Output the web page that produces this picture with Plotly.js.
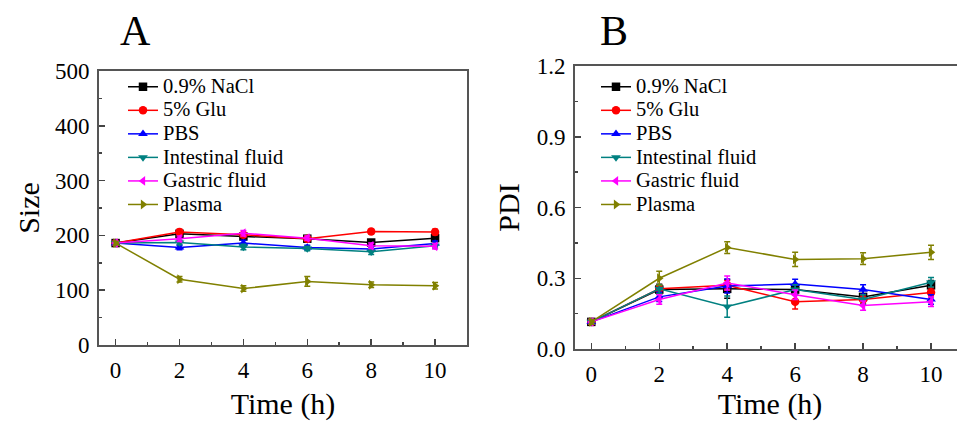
<!DOCTYPE html>
<html>
<head>
<meta charset="utf-8">
<script src="https://cdn.plot.ly/plotly-3.0.1.min.js"></script>
<style>
html,body{margin:0;padding:0;overflow:hidden;background:#fff;width:957px;height:421px;}
#chart{width:975px;height:421px;}
</style>
</head>
<body>
<div id="chart"></div>
<script>
// ---- data ----
const timeH = [0, 2, 4, 6, 8, 10];
const seriesNames = ["0.9% NaCl", "5% Glu", "PBS", "Intestinal fluid", "Gastric fluid", "Plasma"];

// Panel A: Size
const sizeNaCl       = [186, 203, 198, 194, 187, 195];
const sizeGlu        = [186, 206, 201, 194, 207, 206];
const sizePBS        = [186, 178, 186, 178, 175, 185];
const sizeIntestinal = [186, 187, 179, 176, 170, 181];
const sizeGastric    = [186, 194, 204, 195, 181, 180];
const sizePlasma     = [186, 120, 103, 116, 110, 108];
const sizeErrNaCl       = [3, 5, 5, 4, 5, 5];
const sizeErrGlu        = [3, 5, 4, 4, 4, 5];
const sizeErrPBS        = [3, 4, 5, 4, 4, 5];
const sizeErrIntestinal = [3, 4, 5, 4, 5, 4];
const sizeErrGastric    = [3, 5, 5, 4, 5, 5];
const sizeErrPlasma     = [3, 5, 5, 9, 5, 6];

// Panel B: PDI
const pdiNaCl       = [0.115, 0.252, 0.255, 0.252, 0.221, 0.270];
const pdiGlu        = [0.115, 0.255, 0.270, 0.200, 0.210, 0.240];
const pdiPBS        = [0.115, 0.221, 0.267, 0.276, 0.252, 0.210];
const pdiIntestinal = [0.115, 0.255, 0.180, 0.252, 0.210, 0.283];
const pdiGastric    = [0.115, 0.210, 0.280, 0.230, 0.184, 0.200];
const pdiPlasma     = [0.115, 0.300, 0.430, 0.380, 0.383, 0.410];
const pdiErrNaCl       = [0.01, 0.02, 0.04, 0.02, 0.03, 0.02];
const pdiErrGlu        = [0.01, 0.02, 0.02, 0.03, 0.02, 0.02];
const pdiErrPBS        = [0.01, 0.02, 0.03, 0.02, 0.02, 0.02];
const pdiErrIntestinal = [0.01, 0.02, 0.045, 0.02, 0.02, 0.02];
const pdiErrGastric    = [0.01, 0.02, 0.03, 0.02, 0.02, 0.02];
const pdiErrPlasma     = [0.01, 0.03, 0.025, 0.03, 0.025, 0.03];

const xTickVals = [0, 2, 4, 6, 8, 10];
const sizeTickVals = [0, 100, 200, 300, 400, 500];
const pdiTickVals = [0, 0.3, 0.6, 0.9, 1.2];
const pdiTickText = ["0.0", "0.3", "0.6", "0.9", "1.2"];

// ---- styles ----
const colors = ["#000000", "#ff0000", "#0000ff", "#008080", "#ff00ff", "#808000"];
const symbols = ["square", "circle", "triangle-up", "triangle-down", "triangle-left", "triangle-right"];
const FONT = "'Liberation Serif', 'Times New Roman', Times, serif";
const W = 975, H = 421;
const px = v => v / W;
const py = v => 1 - v / H;
const legendLabel = n => "<span style='font-size:20.5px'>" + n + "</span>";

const sizeSeries = [sizeNaCl, sizeGlu, sizePBS, sizeIntestinal, sizeGastric, sizePlasma];
const sizeErrs = [sizeErrNaCl, sizeErrGlu, sizeErrPBS, sizeErrIntestinal, sizeErrGastric, sizeErrPlasma];
const pdiSeries = [pdiNaCl, pdiGlu, pdiPBS, pdiIntestinal, pdiGastric, pdiPlasma];
const pdiErrs = [pdiErrNaCl, pdiErrGlu, pdiErrPBS, pdiErrIntestinal, pdiErrGastric, pdiErrPlasma];

const traces = [];
seriesNames.forEach((n, i) => {
  traces.push({
    x: timeH, y: sizeSeries[i], name: legendLabel(n), type: 'scatter', mode: 'lines+markers',
    xaxis: 'x', yaxis: 'y', legend: 'legend',
    line: {color: colors[i], width: 1.5},
    marker: {color: colors[i], symbol: symbols[i], size: 8.5},
    error_y: {type: 'data', array: sizeErrs[i], visible: true, color: colors[i], thickness: 1.5, width: 3}
  });
});
seriesNames.forEach((n, i) => {
  traces.push({
    x: timeH, y: pdiSeries[i], name: legendLabel(n), type: 'scatter', mode: 'lines+markers',
    xaxis: 'x2', yaxis: 'y2', legend: 'legend2',
    line: {color: colors[i], width: 1.5},
    marker: {color: colors[i], symbol: symbols[i], size: 8.5},
    error_y: {type: 'data', array: pdiErrs[i], visible: true, color: colors[i], thickness: 1.5, width: 3}
  });
});

const axisCommon = {
  showline: true, linecolor: '#555', linewidth: 2, mirror: true,
  ticks: 'inside', ticklen: 6, tickwidth: 1.5, tickcolor: '#444',
  showgrid: false, zeroline: false, ticklabelstandoff: 3,
  tickfont: {family: FONT, size: 23, color: '#000'},
};

const legendCommon = {
  font: {family: FONT, size: 15.8, color: '#000'},
  bgcolor: 'rgba(0,0,0,0)', borderwidth: 0,
  xanchor: 'left', yanchor: 'top', tracegroupgap: 0, itemwidth: 30
};

const layout = {
  width: W, height: H,
  margin: {l: 0, r: 0, t: 0, b: 0},
  paper_bgcolor: '#fff', plot_bgcolor: '#fff',
  font: {family: FONT, color: '#000'},
  xaxis: Object.assign({}, axisCommon, {
    domain: [px(99), px(467)], range: [-0.52, 11], anchor: 'y',
    tickvals: xTickVals, minor: {dtick: 1, tick0: 1, ticks: 'inside', ticklen: 3, tickcolor: '#444'},
    title: {text: 'Time (h)', font: {family: FONT, size: 30, color: '#000'}, standoff: 16}
  }),
  yaxis: Object.assign({}, axisCommon, {
    domain: [py(345), py(71)], range: [0, 500], anchor: 'x',
    tickvals: sizeTickVals, minor: {dtick: 50, tick0: 50, ticks: 'inside', ticklen: 3, tickcolor: '#444'},
    title: {text: 'Size', font: {family: FONT, size: 30, color: '#000'}, standoff: 6}
  }),
  xaxis2: Object.assign({}, axisCommon, {
    domain: [px(575), px(965)], range: [-0.48, 11], anchor: 'y2',
    tickvals: xTickVals, minor: {dtick: 1, tick0: 1, ticks: 'inside', ticklen: 3, tickcolor: '#444'},
    title: {text: 'Time (h)', font: {family: FONT, size: 30, color: '#000'}, standoff: 15}
  }),
  yaxis2: Object.assign({}, axisCommon, {
    domain: [py(349), py(66)], range: [0, 1.2], anchor: 'x2',
    tickvals: pdiTickVals, ticktext: pdiTickText,
    minor: {dtick: 0.15, tick0: 0.15, ticks: 'inside', ticklen: 3, tickcolor: '#444'},
    title: {text: 'PDI', font: {family: FONT, size: 30, color: '#000'}, standoff: 8}
  }),
  legend: Object.assign({}, legendCommon, {x: px(123), y: py(70)}),
  legend2: Object.assign({}, legendCommon, {x: px(596), y: py(70)}),
  showlegend: true,
  annotations: [
    {text: 'A', x: px(135), y: py(56), xref: 'paper', yref: 'paper', xanchor: 'center', yanchor: 'bottom',
     showarrow: false, font: {family: FONT, size: 42, color: '#000'}},
    {text: 'B', x: px(614), y: py(56), xref: 'paper', yref: 'paper', xanchor: 'center', yanchor: 'bottom',
     showarrow: false, font: {family: FONT, size: 42, color: '#000'}}
  ]
};

Plotly.newPlot('chart', traces, layout, {staticPlot: true, displayModeBar: false});
</script>
</body>
</html>
